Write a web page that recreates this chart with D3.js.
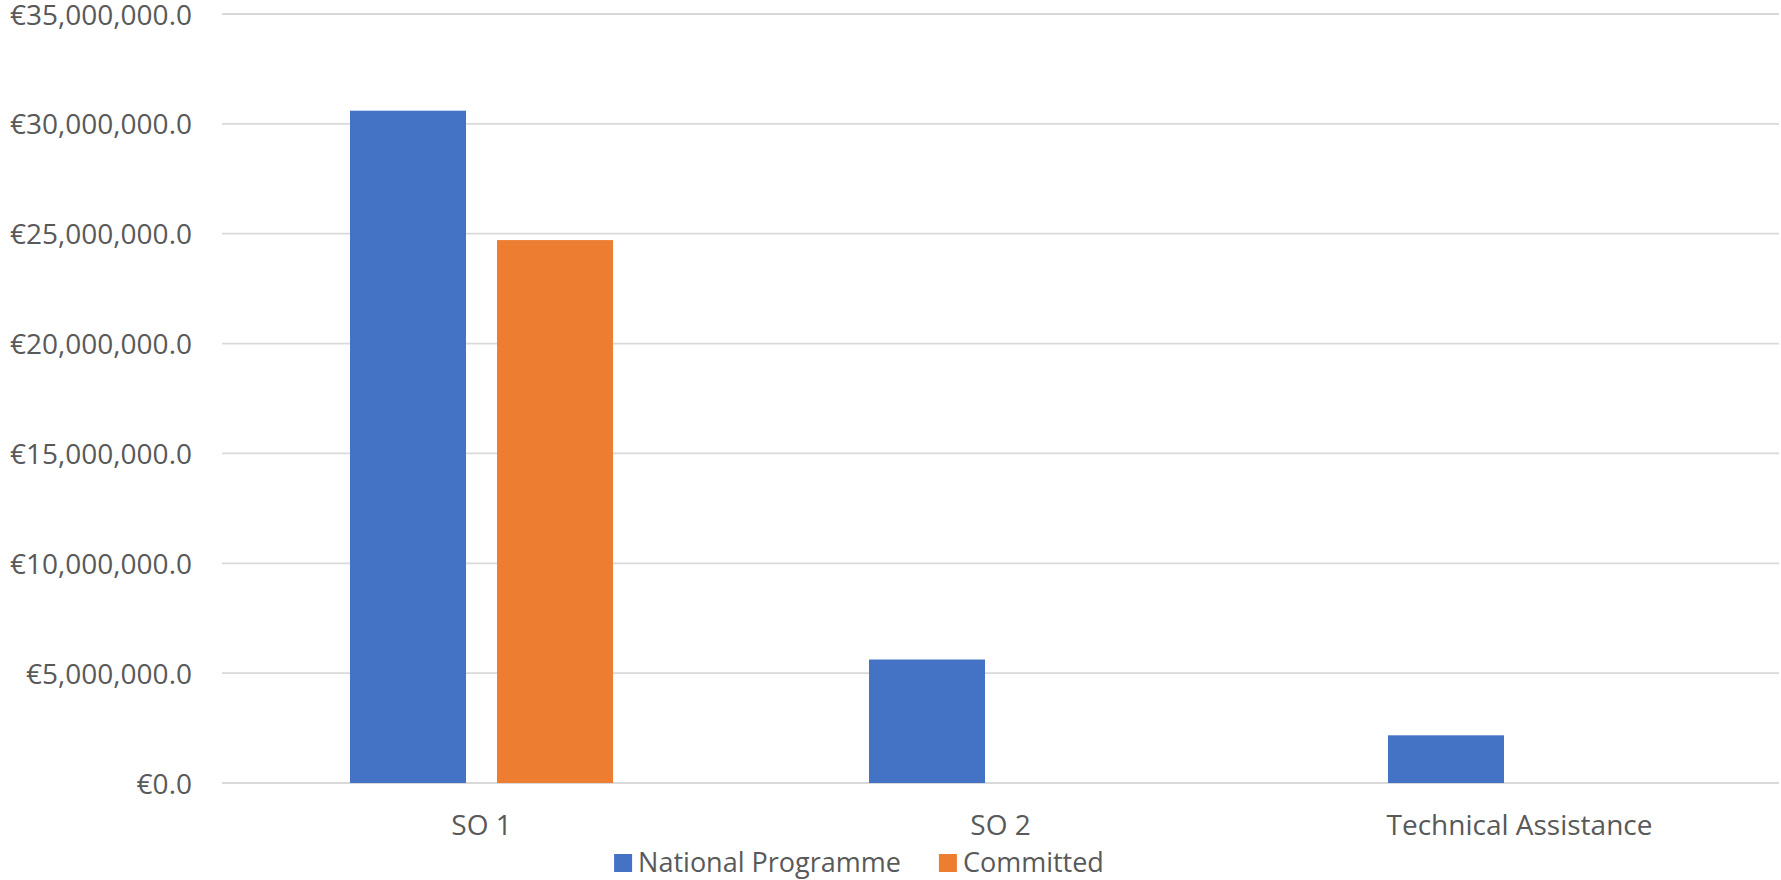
<!DOCTYPE html>
<html>
<head>
<meta charset="utf-8">
<script src="https://cdn.jsdelivr.net/npm/d3@7"></script>
<style>
  html, body { margin: 0; padding: 0; background: #fff; }
  svg text { font-family: "Open Sans", "Noto Sans", sans-serif; fill: #595959; }
</style>
</head>
<body>
<svg id="chart" width="1781" height="880"></svg>
<script>
const categories = ["SO 1", "SO 2", "Technical Assistance"];
const seriesNames = ["National Programme", "Committed"];
const nationalProgramme = [30600000, 5620000, 2170000];
const committed = [24710000, 0, 0];
const yTicks = [0, 5000000, 10000000, 15000000, 20000000, 25000000, 30000000, 35000000];
const colors = ["#4472C4", "#ED7D31"];

const svg = d3.select("#chart");
const W = 1781, H = 880;
const plot = { left: 222, right: 1779, top: 14, bottom: 783 };

const x = d3.scaleBand().domain(categories).range([plot.left, plot.right]).paddingInner(0).paddingOuter(0);
const y = d3.scaleLinear().domain([0, 35000000]).range([plot.bottom, plot.top]);

const fmt = v => "€" + d3.format(",.1f")(v);

// gridlines
svg.append("g")
  .selectAll("line").data(yTicks).join("line")
  .attr("x1", plot.left).attr("x2", plot.right)
  .attr("y1", d => y(d)).attr("y2", d => y(d))
  .attr("stroke", "#D9D9D9").attr("stroke-width", 1.8);

// y axis labels
const yAxis = d3.axisLeft(y).tickValues(yTicks).tickFormat(fmt).tickSize(0).tickPadding(0);
const yg = svg.append("g").attr("transform", `translate(192,0)`).call(yAxis);
yg.select(".domain").remove();
yg.selectAll("text").attr("font-size", 28).attr("fill", "#595959").attr("dy", "0.36em")
  .style("font-family", '"Open Sans", sans-serif');

// bars
const barW = 116, gap = 31;
const groupW = barW * 2 + gap;
const data = categories.map((c, i) => ({ c, vals: [nationalProgramme[i], committed[i]] }));
const groups = svg.append("g").selectAll("g").data(data).join("g")
  .attr("transform", d => `translate(${x(d.c) + (x.bandwidth() - groupW) / 2},0)`);
groups.selectAll("rect").data(d => d.vals.map((v, j) => ({ v, j })).filter(e => e.v > 0))
  .join("rect")
  .attr("x", e => e.j * (barW + gap))
  .attr("width", barW)
  .attr("y", e => y(e.v))
  .attr("height", e => y(0) - y(e.v))
  .attr("fill", e => colors[e.j]);

// x axis labels
const xAxis = d3.axisBottom(x).tickSize(0).tickPadding(0);
const xg = svg.append("g").attr("transform", `translate(0,${plot.bottom})`).call(xAxis);
xg.select(".domain").remove();
xg.selectAll("text").attr("font-size", 28).attr("fill", "#595959").attr("dy", null).attr("y", 52)
  .style("font-family", '"Open Sans", sans-serif');

// legend (laid out from measured text widths, centred)
const legend = svg.append("g");
const sw = 18, textGap = 6, itemGap = 38;
const items = seriesNames.map((n, i) => ({ name: n, color: colors[i] }));
const li = legend.selectAll("g").data(items).join("g");
li.append("rect").attr("x", 0).attr("y", 854).attr("width", sw).attr("height", sw).attr("fill", d => d.color);
li.append("text").attr("x", sw + textGap).attr("y", 872).attr("font-size", 27).text(d => d.name);
let widths = [];
li.each(function () { widths.push(sw + textGap + this.querySelector("text").getComputedTextLength()); });
const total = d3.sum(widths) + itemGap * (widths.length - 1);
let cx = 859 - total / 2;
li.attr("transform", (d, i) => {
  const t = `translate(${cx},0)`;
  cx += widths[i] + itemGap;
  return t;
});
</script>
</body>
</html>
